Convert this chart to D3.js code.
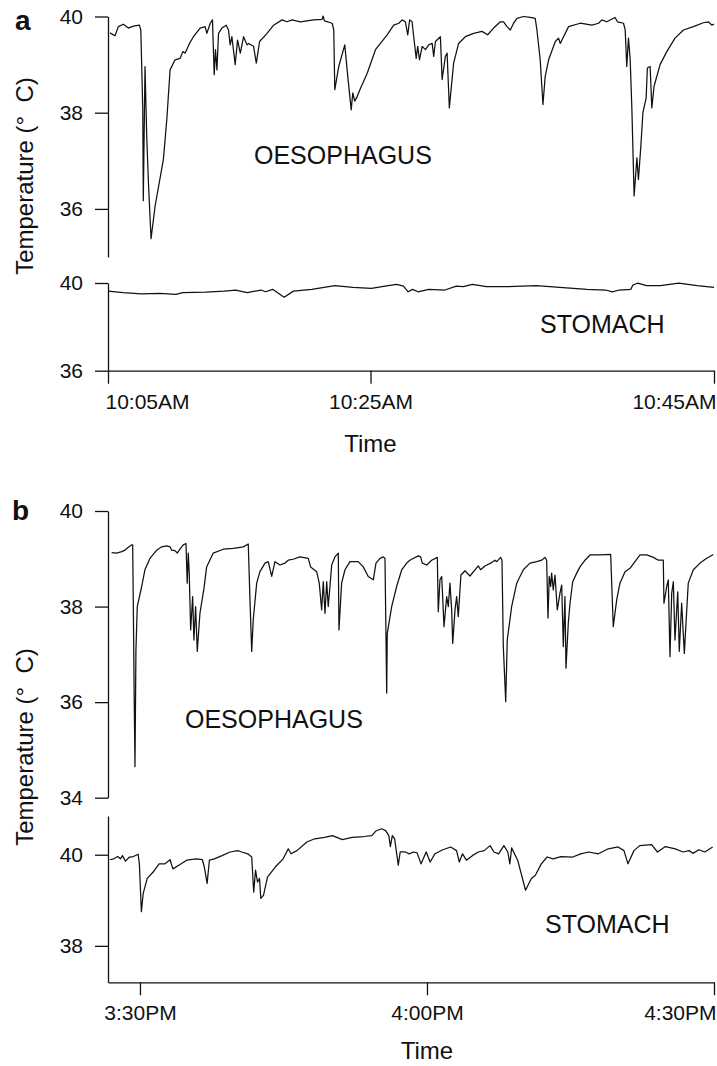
<!DOCTYPE html>
<html>
<head>
<style>
    body { margin: 0; background: #fff; }
    svg { display: block; }
    text { font-family: "Liberation Sans", Arial, Helvetica, sans-serif; fill: #111; }
    .axis path, .axis line { stroke: #111; stroke-width: 1.3; }
    .axis text { font-size: 21px; }
    .trace { fill: none; stroke: #111; stroke-width: 1.25; stroke-linejoin: round; }
    .panel { font-size: 28px; font-weight: bold; }
    .ytitle { font-size: 24px; text-anchor: middle; }
    .site { font-size: 25px; }
    .xtitle { font-size: 24px; text-anchor: middle; }
</style>
<script src="https://d3js.org/d3.v7.min.js"></script>
</head>
<body>
<svg width="717" height="1066"></svg>
<script>
// panel a : minutes after 10:00 AM
var oesoTimeA = [5.15,5.53,5.79,6.17,6.55,6.93,7.39,7.50,7.65,7.69,7.82,7.95,8.08,8.28,8.59,9.22,9.48,9.73,10.11,10.50,
    10.70,10.88,11.21,11.51,12.02,12.40,12.53,12.79,12.96,13.09,13.19,13.30,13.42,13.68,14.01,14.18,14.31,14.44,14.69,14.87,
    15.08,15.33,15.59,15.71,16.09,16.30,16.55,17.12,17.62,18.26,18.64,19.02,19.66,20.67,21.31,21.39,21.49,22.08,22.20,22.28,
    22.58,23.04,23.27,23.53,23.65,23.80,23.99,24.24,24.75,25.29,25.97,26.35,26.65,26.84,27.03,27.17,27.28,27.42,27.56,27.66,
    27.75,27.85,28.01,28.20,28.39,28.59,28.68,28.78,29.07,29.17,29.36,29.46,29.59,29.84,30.13,30.52,31.01,31.49,31.82,32.17,
    32.56,32.75,32.95,33.14,33.33,33.53,33.91,34.30,34.59,34.69,34.88,35.04,35.17,35.37,35.76,35.95,36.05,36.24,36.53,37.21,
    37.89,38.28,38.47,38.76,39.24,39.38,39.73,39.83,39.92,40.02,40.12,40.22,40.35,40.51,40.60,40.74,40.86,41.05,41.12,41.28,
    41.38,41.51,41.86,42.25,42.73,43.22,43.80,44.38,44.67,44.87,45.00];
var oesoTempA = [39.66,39.60,39.79,39.84,39.76,39.80,39.82,39.72,38.06,36.17,38.96,37.51,36.55,35.38,36.06,37.03,37.86,38.89,39.10,39.13,
    39.27,39.24,39.44,39.58,39.76,39.79,39.65,39.86,39.93,38.79,39.31,38.89,39.65,39.76,39.82,39.72,39.41,39.58,39.00,39.51,
    39.24,39.58,39.41,39.44,39.38,39.03,39.48,39.65,39.82,39.93,39.89,39.93,39.89,39.93,39.94,40.01,39.91,39.86,39.72,38.48,
    38.96,39.41,38.75,38.06,38.41,38.24,38.34,38.51,38.82,39.31,39.62,39.82,39.86,39.93,39.89,39.62,39.93,39.89,39.44,39.13,
    39.38,39.10,39.38,39.31,39.41,39.44,39.17,39.48,39.58,38.69,39.17,39.24,38.10,39.03,39.44,39.58,39.65,39.69,39.62,39.76,
    39.89,39.89,39.79,39.72,39.86,39.96,40.00,39.98,39.96,39.72,39.10,38.17,38.75,39.10,39.48,39.55,39.44,39.58,39.79,39.86,
    39.82,39.86,39.93,39.89,39.98,39.89,39.86,39.72,38.96,39.55,39.10,38.06,36.27,37.06,36.61,37.30,38.00,38.31,38.93,38.96,
    38.10,38.55,39.00,39.27,39.55,39.72,39.79,39.87,39.89,39.82,39.84];
var stomTimeA = [5.00,6.16,7.55,8.95,10.17,10.69,12.45,13.86,14.73,15.61,16.66,17.01,17.54,18.42,19.12,20.53,22.28,23.67,25.05,25.85,
    26.52,26.92,27.19,27.45,27.77,28.39,29.33,30.00,30.40,30.94,31.74,32.80,34.67,36.01,37.61,38.68,39.08,39.48,40.15,40.28,
    40.55,41.08,41.88,42.95,44.02,45.00];
var stomTempA = [39.63,39.56,39.50,39.53,39.48,39.56,39.58,39.63,39.68,39.56,39.68,39.60,39.71,39.35,39.63,39.71,39.88,39.80,39.76,39.86,
    39.94,39.86,39.60,39.71,39.60,39.71,39.68,39.86,39.83,39.94,39.83,39.83,39.88,39.80,39.71,39.68,39.60,39.68,39.71,39.91,
    39.99,39.88,39.88,39.99,39.88,39.80];
var tickTimesA = [5, 25, 45];
var tickLabelsA = ["10:05AM", "10:25AM", "10:45AM"];

// panel b : minutes after 3:00 PM
var oesoTimeB = [27.04,27.56,28.09,28.43,28.78,29.13,29.24,29.30,29.40,29.48,29.58,29.72,30.18,30.52,31.05,31.75,32.27,32.79,33.14,33.31,
    33.66,33.90,34.18,34.53,34.81,34.94,35.05,35.15,35.30,35.51,35.64,35.82,35.99,36.27,36.69,36.97,37.66,38.71,39.75,40.80,
    41.32,41.50,41.68,41.84,42.20,42.54,43.07,43.41,43.77,44.11,44.63,45.16,45.50,46.02,46.72,47.59,47.84,48.47,48.74,48.99,
    49.16,49.34,49.52,49.68,49.86,50.04,50.38,50.73,50.80,51.08,51.43,51.95,52.82,53.34,53.86,54.39,54.67,55.09,55.43,55.61,
    55.79,55.85,56.31,56.83,57.36,57.88,58.22,58.40,59.09,59.34,59.51,59.97,60.49,61.08,61.18,61.36,61.54,61.78,62.06,62.23,
    62.40,62.58,62.69,62.93,63.10,63.27,63.45,63.55,63.97,64.49,65.02,65.36,65.61,66.06,66.76,67.11,67.29,67.70,67.84,67.98,
    68.23,68.39,68.85,69.38,70.07,70.77,71.47,71.99,72.33,72.51,72.65,72.78,72.93,73.03,73.20,73.38,73.62,73.90,74.08,74.25,
    74.42,74.53,74.77,74.95,75.23,75.65,75.99,76.52,77.04,78.08,79.20,79.47,79.83,80.17,80.70,81.22,81.74,82.27,82.97,83.66,
    84.18,84.70,84.77,85.06,85.22,85.40,85.58,85.75,85.92,86.21,86.37,86.62,86.90,87.15,87.31,87.84,88.54,89.24,89.93];
var oesoTempB = [39.13,39.12,39.15,39.18,39.24,39.29,39.29,38.14,36.05,34.65,37.09,38.00,38.42,38.77,39.01,39.18,39.25,39.27,39.25,39.18,
    39.17,39.12,39.20,39.29,39.32,38.49,39.12,38.70,37.51,38.21,37.30,38.00,37.06,37.86,38.38,38.83,39.12,39.20,39.22,39.25,
    39.31,38.14,37.06,37.72,38.49,38.73,38.91,38.94,38.63,38.94,38.87,38.91,38.97,38.99,39.04,39.01,38.83,38.73,38.49,37.93,
    38.52,37.86,38.52,38.00,38.42,38.87,39.04,39.12,37.51,38.49,38.77,38.94,38.94,38.83,38.63,38.56,38.91,39.01,39.04,39.01,
    36.19,37.44,38.00,38.42,38.77,38.91,38.97,38.99,39.06,39.04,38.91,38.87,38.97,39.03,37.89,38.56,38.63,37.58,38.21,38.00,
    38.49,37.93,37.23,37.93,38.21,37.79,38.35,38.66,38.75,38.64,38.77,38.85,38.77,38.85,38.92,38.97,38.94,39.03,38.97,37.16,
    36.01,37.30,38.00,38.49,38.77,38.91,38.94,38.97,39.03,38.97,37.76,38.63,38.42,38.70,38.35,38.66,37.93,38.28,38.45,37.16,
    38.21,36.71,37.65,38.07,38.52,38.70,38.83,38.97,39.08,39.08,39.09,37.58,38.14,38.49,38.73,38.80,38.94,39.08,39.08,39.03,
    38.97,38.97,38.07,38.42,38.56,36.95,38.28,38.52,37.30,38.31,37.06,38.07,37.02,37.93,38.49,38.77,38.91,39.01,39.09];
var stomTimeB = [26.85,27.26,27.67,27.96,28.17,28.49,28.91,29.32,29.81,29.94,30.15,30.34,30.76,31.38,32.00,32.61,33.15,33.44,34.06,34.88,
    35.91,36.52,36.73,37.02,37.26,37.77,38.58,39.41,40.23,40.64,41.27,41.68,41.89,42.08,42.29,42.50,42.63,42.91,43.33,44.14,
    44.97,45.50,45.79,46.41,47.45,48.26,49.30,50.12,51.15,52.18,53.41,54.24,54.65,55.27,55.68,56.01,56.17,56.38,56.62,56.79,
    57.00,57.20,57.74,58.15,58.56,58.97,59.38,59.92,60.33,60.83,61.65,62.48,63.09,63.38,63.71,64.12,64.74,65.36,65.98,66.60,
    67.00,67.49,68.04,68.45,68.66,68.85,69.48,70.30,70.91,71.33,71.95,72.56,73.18,74.01,75.24,76.07,76.89,77.92,78.95,79.98,
    80.59,81.01,81.63,82.24,83.48,84.09,84.92,85.95,86.77,87.39,87.80,88.42,89.04,89.86];
var stomTempB = [39.89,39.91,39.96,39.91,39.98,39.86,39.95,39.96,40.01,39.80,38.75,39.15,39.48,39.62,39.80,39.80,39.89,39.69,39.77,39.88,
    39.91,39.89,39.73,39.37,39.88,39.91,39.98,40.06,40.09,40.06,40.02,39.95,39.18,39.66,39.40,39.48,39.04,39.11,39.51,39.73,
    39.91,40.13,40.02,40.09,40.28,40.35,40.38,40.42,40.33,40.38,40.40,40.42,40.52,40.57,40.53,40.42,40.18,40.42,40.35,40.09,
    39.77,40.06,40.06,40.02,40.06,40.04,39.80,40.06,39.84,40.02,40.11,40.17,40.09,39.84,40.02,39.88,39.98,40.06,40.09,40.20,
    40.06,40.02,40.20,40.06,39.80,40.15,39.88,39.22,39.48,39.55,39.80,39.95,39.91,39.96,39.95,40.02,40.06,40.02,40.13,40.17,
    40.09,39.80,40.09,40.20,40.22,40.06,40.18,40.13,40.06,40.09,40.03,40.11,40.06,40.17];
var tickTimesB = [30, 60, 90];
var tickLabelsB = ["3:30PM", "4:00PM", "4:30PM"];

var svg = d3.select("svg");

// scales
var xA = d3.scaleLinear().domain([5, 25, 45]).range([108, 370.5, 714]);
var xB = d3.scaleLinear().domain([26.66, 90]).range([108, 714]);
var yAo = d3.scaleLinear().domain([35, 40]).range([257, 16.5]);
var yAs = d3.scaleLinear().domain([36, 40]).range([370.7, 283]);
var yBo = d3.scaleLinear().domain([34, 40]).range([797.7, 511]);
var yBs = d3.scaleLinear().domain([37.2, 40.85]).range([982.3, 816]);

function yAxis(scale, ticks) {
    return d3.axisLeft(scale).tickValues(ticks).tickSize(13).tickSizeOuter(0)
        .tickPadding(12).tickFormat(d3.format("d"));
}

function drawY(scale, ticks) {
    svg.append("g").attr("class", "axis")
        .attr("transform", "translate(108,0)")
        .call(yAxis(scale, ticks));
}

function drawX(scale, ticks, labels, y0) {
    var g = svg.append("g").attr("class", "axis")
        .attr("transform", "translate(0," + y0 + ")")
        .call(d3.axisBottom(scale).tickValues(ticks).tickSize(13).tickSizeOuter(0)
            .tickPadding(10).tickFormat(function(d, i) { return labels[i]; }));
    return g;
}

function trace(times, temps, x, y) {
    var line = d3.line().x(function(d) { return x(d[0]); }).y(function(d) { return y(d[1]); });
    svg.append("path").attr("class", "trace").attr("d", line(d3.zip(times, temps)));
}

// panel a
drawY(yAo, [36, 38, 40]);
drawY(yAs, [36, 40]);
var axA = drawX(xA, tickTimesA, tickLabelsA, yAs(36));
axA.selectAll(".tick text")
    .attr("text-anchor", function(d, i) { return i == 0 ? "start" : (i == 2 ? "end" : "middle"); })
    .attr("dx", function(d, i) { return i == 0 ? -3 : (i == 2 ? 2 : 0); });
trace(oesoTimeA, oesoTempA, xA, yAo);
trace(stomTimeA, stomTempA, xA, yAs);

// panel b
drawY(yBo, [34, 36, 38, 40]);
drawY(yBs, [38, 40]);
var axB = drawX(xB, tickTimesB, tickLabelsB, yBs(37.2));
axB.selectAll(".tick text")
    .attr("text-anchor", function(d, i) { return i == 2 ? "end" : "middle"; })
    .attr("dx", function(d, i) { return i == 2 ? 2 : 0; });
trace(oesoTimeB, oesoTempB, xB, yBo);
trace(stomTimeB, stomTempB, xB, yBs);

// labels
svg.append("text").attr("class", "panel").attr("x", 15).attr("y", 30).text("a");
svg.append("text").attr("class", "panel").attr("x", 12).attr("y", 520).text("b");

svg.append("text").attr("class", "ytitle")
    .attr("transform", "translate(33,176) rotate(-90)").text("Temperature (°\u00a0\u00a0C)");
svg.append("text").attr("class", "ytitle")
    .attr("transform", "translate(33,747) rotate(-90)").text("Temperature (°\u00a0\u00a0C)");

svg.append("text").attr("class", "site").attr("x", 254).attr("y", 163.5).text("OESOPHAGUS");
svg.append("text").attr("class", "site").attr("x", 540).attr("y", 333).text("STOMACH");
svg.append("text").attr("class", "site").attr("x", 185).attr("y", 728).text("OESOPHAGUS");
svg.append("text").attr("class", "site").attr("x", 545).attr("y", 933).text("STOMACH");

svg.append("text").attr("class", "xtitle").attr("x", xA(25)).attr("y", 452).text("Time");
svg.append("text").attr("class", "xtitle").attr("x", xB(60)).attr("y", 1059).text("Time");
</script>
</body>
</html>
